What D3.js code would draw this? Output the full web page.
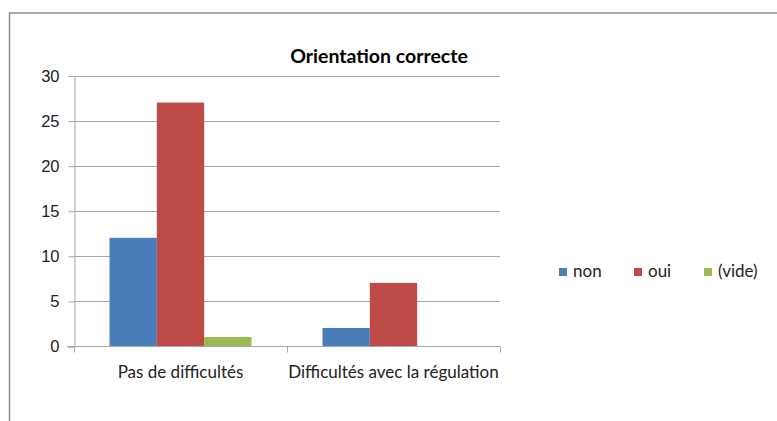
<!DOCTYPE html>
<html>
<head>
<meta charset="utf-8">
<script src="https://cdn.jsdelivr.net/npm/d3@7"></script>
<style>
  html, body { margin: 0; padding: 0; background: #fff; }
  svg { display: block; font-family: Lato, "Open Sans", sans-serif; }
</style>
</head>
<body>
<svg id="chart" width="777" height="421"></svg>
<script>
// Categories, series and their values
const categories = ["Pas de difficultés", "Difficultés avec la régulation"];
const seriesNames = ["non", "oui", "(vide)"];
const nonValues = [12, 2];
const ouiValues = [27, 7];
const videValues = [1, null];
const yTicks = [0, 5, 10, 15, 20, 25, 30];
const seriesColors = ["#4A7EBB", "#BE4B48", "#98B954"];

const seriesValues = [nonValues, ouiValues, videValues];

const svg = d3.select("#chart");

// Outer chart frame (top and left edges visible)
svg.append("path")
  .attr("d", "M9.5,421 V13 H777")
  .attr("fill", "none")
  .attr("stroke", "#8c8c8c")
  .attr("stroke-width", 1.5);

const plot = { left: 74, right: 500, top: 75.5, bottom: 346 };

const x0 = d3.scaleBand()
  .domain(categories)
  .range([plot.left, plot.right])
  .paddingInner(0)
  .paddingOuter(0);

// Bars fill 3 of 4.5 slot widths in each category (gap width 150%)
const x1 = d3.scaleBand()
  .domain(seriesNames)
  .range([0, x0.bandwidth()])
  .paddingInner(0)
  .paddingOuter(0.75);

const y = d3.scaleLinear()
  .domain([0, 30])
  .range([plot.bottom, plot.top]);

// Horizontal gridlines
svg.append("g")
  .selectAll("line")
  .data(yTicks.filter(d => d > 0))
  .join("line")
  .attr("x1", plot.left)
  .attr("x2", plot.right)
  .attr("y1", d => Math.round(y(d)) + 0.5)
  .attr("y2", d => Math.round(y(d)) + 0.5)
  .attr("stroke", "#a6a6a6")
  .attr("stroke-width", 1);

// Y axis
const yAxis = svg.append("g")
  .attr("transform", `translate(${plot.left + 0.5},0.5)`)
  .call(d3.axisLeft(y).tickValues(yTicks).tickSize(6).tickPadding(9));
yAxis.select(".domain").attr("stroke", "#a6a6a6");
yAxis.selectAll(".tick line").attr("stroke", "#a6a6a6");
yAxis.selectAll(".tick text")
  .attr("fill", "#222")
  .style("font-size", "16.5px");

// Bars
const groups = svg.append("g")
  .selectAll("g")
  .data(categories)
  .join("g")
  .attr("transform", d => `translate(${x0(d)},0)`);

groups.selectAll("rect")
  .data((d, i) => seriesNames.map((s, j) => ({ s, j, v: seriesValues[j][i] })).filter(e => e.v != null && e.v > 0))
  .join("rect")
  .attr("x", d => x1(d.s))
  .attr("width", x1.bandwidth())
  .attr("y", d => y(d.v))
  .attr("height", d => y(0) - y(d.v))
  .attr("fill", d => seriesColors[d.j]);

// X axis with category separators
const xAxisG = svg.append("g").attr("transform", `translate(0,${plot.bottom + 0.5})`);
xAxisG.append("line")
  .attr("x1", plot.left - 7)
  .attr("x2", plot.right)
  .attr("stroke", "#a6a6a6");
const sepX = [plot.left, ...categories.map(c => x0(c) + x0.bandwidth())];
xAxisG.selectAll("line.sep")
  .data(sepX)
  .join("line")
  .attr("class", "sep")
  .attr("x1", d => Math.round(d) + 0.5)
  .attr("x2", d => Math.round(d) + 0.5)
  .attr("y1", 0)
  .attr("y2", 6)
  .attr("stroke", "#a6a6a6");
xAxisG.selectAll("text")
  .data(categories)
  .join("text")
  .attr("x", d => x0(d) + x0.bandwidth() / 2)
  .attr("y", 31)
  .attr("text-anchor", "middle")
  .attr("fill", "#222")
  .style("font-size", "17px")
  .text(d => d);

// Title
svg.append("text")
  .attr("x", 379)
  .attr("y", 63)
  .attr("text-anchor", "middle")
  .attr("fill", "#000")
  .style("font-size", "19.5px")
  .style("font-weight", "bold")
  .text("Orientation correcte");

// Legend
const legendX = [559, 634, 704];
const legend = svg.append("g")
  .selectAll("g")
  .data(seriesNames)
  .join("g")
  .attr("transform", (d, i) => `translate(${legendX[i]},268)`);
legend.append("rect")
  .attr("width", 8)
  .attr("height", 8)
  .attr("fill", (d, i) => seriesColors[i]);
legend.append("text")
  .attr("x", 14)
  .attr("y", 9)
  .attr("fill", "#222")
  .style("font-size", "17px")
  .text(d => d);
</script>
</body>
</html>
